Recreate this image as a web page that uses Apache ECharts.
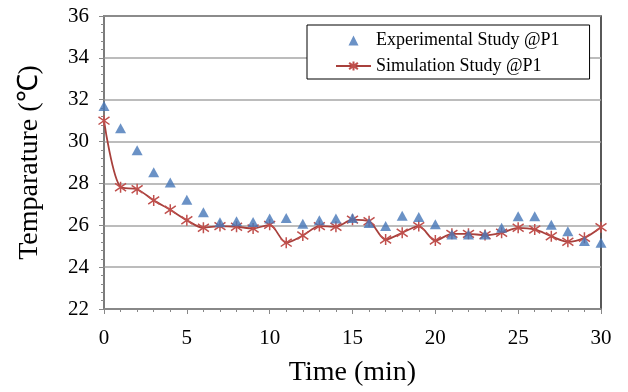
<!DOCTYPE html>
<html>
<head>
<meta charset="utf-8">
<script src="https://cdn.jsdelivr.net/npm/echarts@6/dist/echarts.min.js"></script>
<style>html,body{margin:0;padding:0;background:#fff}#c{width:628px;height:392px}</style>
</head>
<body>
<div id="c"></div>
<script>
var times = [0,1,2,3,4,5,6,7,8,9,10,11,12,13,14,15,16,17,18,19,20,21,22,23,24,25,26,27,28,29,30];
var experimental = [31.7,30.64,29.58,28.53,28.05,27.22,26.62,26.15,26.19,26.16,26.33,26.35,26.07,26.24,26.32,26.35,26.11,25.96,26.46,26.4,26.05,25.56,25.56,25.56,25.88,26.43,26.43,26.03,25.72,25.25,25.17];
var simulation = [31.0,27.82,27.72,27.19,26.74,26.24,25.88,25.96,25.93,25.85,26.02,25.17,25.51,25.96,25.93,26.27,26.19,25.32,25.64,25.96,25.27,25.59,25.59,25.53,25.64,25.88,25.8,25.48,25.21,25.4,25.91];
var yTicks = [22,24,26,28,30,32,34,36];
var xTicks = [0,5,10,15,20,25,30];

var expData = times.map(function(t,i){return [t, experimental[i]];});
var simData = times.map(function(t,i){return [t, simulation[i]];});
var starPath = 'path://M1.5,1.5L8.5,8.5M8.5,1.5L1.5,8.5M5,0L5,10';
var legendTri = 'path://M0,0M35,11M12.5,11L17.5,1L22.5,11Z';
var font = '"Liberation Serif", "Times New Roman", serif';

var chart = echarts.init(document.getElementById('c'), null, {renderer:'canvas'});
chart.setOption({
  animation: false,
  backgroundColor: '#fff',
  grid: {left:104, right:27, top:16, bottom:80, show:true, borderColor:'#000', borderWidth:1.3, backgroundColor:'transparent'},
  legend: {
    orient:'vertical', left:307, top:25,
    backgroundColor:'#fff', borderColor:'#000', borderWidth:1,
    padding:[5,30,3,28], itemGap:6, itemWidth:35, itemHeight:11,
    textStyle:{fontFamily:font, fontSize:18, color:'#000', lineHeight:20},
    data:[{name:'Experimental Study @P1', icon:legendTri}, {name:'Simulation Study @P1'}]
  },
  xAxis: {
    type:'value', min:0, max:30, interval:5,
    name:'Time (min)', nameLocation:'middle', nameGap:50,
    nameTextStyle:{fontFamily:font, fontSize:28, color:'#000'},
    axisLine:{show:true, lineStyle:{color:'#888', width:1.5}},
    axisTick:{show:true, length:5, lineStyle:{color:'#888'}},
    minorTick:{show:true, splitNumber:5, length:3, lineStyle:{color:'#888'}},
    splitLine:{show:false},
    axisLabel:{fontFamily:font, fontSize:21, color:'#000', margin:19,
      formatter:function(v){return xTicks.indexOf(v)>=0 ? String(v) : '';}}
  },
  yAxis: {
    type:'value', min:22, max:36, interval:2,
    name:'Temparature (℃)', nameLocation:'middle', nameGap:60, nameRotate:90,
    nameTextStyle:{fontFamily:font, fontSize:28, color:'#000'},
    axisLine:{show:true, lineStyle:{color:'#888', width:1.5}},
    axisTick:{show:true, length:5, lineStyle:{color:'#888'}},
    minorTick:{show:true, splitNumber:5, length:3, lineStyle:{color:'#888'}},
    splitLine:{show:true, lineStyle:{color:'#a6a6a6', width:1.5}},
    axisLabel:{fontFamily:font, fontSize:21, color:'#000', margin:15,
      formatter:function(v){return yTicks.indexOf(v)>=0 ? String(v) : '';}}
  },
  series: [
    {
      name:'Experimental Study @P1', type:'scatter', data:expData,
      symbol:'triangle', symbolSize:[11,10],
      itemStyle:{color:'#4677b8'}, z:3
    },
    {
      name:'Simulation Study @P1', type:'line', data:simData,
      smooth:0.3, symbol:starPath, symbolSize:11, showSymbol:true,
      lineStyle:{color:'#a8403c', width:1.8},
      itemStyle:{color:'#c0504d', borderColor:'#c0504d', borderWidth:1.5}, z:2
    }
  ]
});
</script>
</body>
</html>
